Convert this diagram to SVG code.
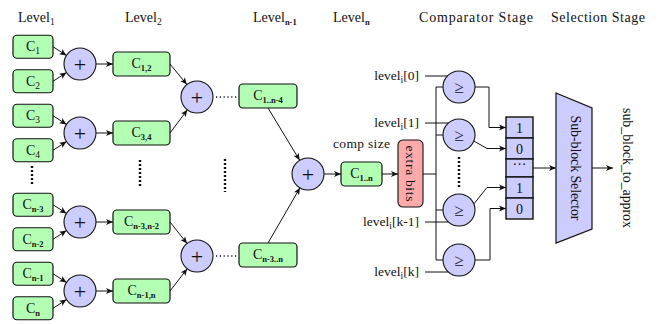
<svg xmlns="http://www.w3.org/2000/svg" width="662" height="324" viewBox="0 0 662 324">
  <defs>
    <marker id="arr" markerUnits="userSpaceOnUse" markerWidth="8" markerHeight="7" refX="7" refY="3.5" orient="auto">
      <path d="M0,0.5 L7,3.5 L0,6.5 L1.8,3.5 z" fill="#111"/>
    </marker>
    <style>
      text { font-family: "Liberation Serif", "DejaVu Serif", serif; fill: #111; }
      .hdr { font-size: 14px; }
      .lbl { font-size: 13.5px; }
      .box { fill: #b3ffb3; stroke: #111; stroke-width: 1.2; }
      .add { fill: #ccccff; stroke: #111; stroke-width: 1.1; }
      .cmp { fill: #ccccff; stroke: #111; stroke-width: 1.1; }
      .reg { fill: #ccccff; stroke: #111; stroke-width: 1.4; }
      .ctext { font-size: 14px; text-anchor: middle; }
      .sub { font-size: 8.5px; font-weight: bold; }
      .subn { font-size: 9.5px; }
      .op { font-size: 22px; text-anchor: middle; font-weight: 300; }
      .ge { font-size: 17px; text-anchor: middle; }
      .wire { fill: none; stroke: #111; stroke-width: 1; }
      .arrow { fill: none; stroke: #111; stroke-width: 1; marker-end: url(#arr); }
      .hdots { fill: none; stroke: #111; stroke-width: 1.3; stroke-dasharray: 1.2 2.6; }
      .vdots { fill: none; stroke: #111; stroke-width: 2.4; stroke-dasharray: 2 2; }
    </style>
  </defs>

  <!-- column headers -->
  <g id="headers" class="hdr">
    <text x="18" y="22">Level<tspan class="subn" dy="3">1</tspan></text>
    <text x="125" y="22">Level<tspan class="subn" dy="3">2</tspan></text>
    <text x="253" y="22">Level<tspan class="sub" dy="3">n-1</tspan></text>
    <text x="333" y="22">Level<tspan class="sub" dy="3">n</tspan></text>
    <text x="419" y="22" textLength="114">Comparator Stage</text>
    <text x="551" y="22" textLength="94">Selection Stage</text>
  </g>

  <!-- level 1 inputs -->
  <g id="c1"><rect class="box" x="13" y="35.25" width="40" height="23" rx="4"/><text class="ctext" x="33" y="51">C<tspan class="subn" dy="3">1</tspan></text></g>
  <g id="c2"><rect class="box" x="13" y="69.75" width="40" height="23" rx="4"/><text class="ctext" x="33" y="85.5">C<tspan class="subn" dy="3">2</tspan></text></g>
  <g id="c3"><rect class="box" x="13" y="104.25" width="40" height="23" rx="4"/><text class="ctext" x="33" y="120">C<tspan class="subn" dy="3">3</tspan></text></g>
  <g id="c4"><rect class="box" x="13" y="138.75" width="40" height="23" rx="4"/><text class="ctext" x="33" y="154.5">C<tspan class="subn" dy="3">4</tspan></text></g>
  <g id="cn3"><rect class="box" x="13" y="193.25" width="40" height="23" rx="4"/><text class="ctext" x="33" y="209">C<tspan class="sub" dy="3">n-3</tspan></text></g>
  <g id="cn2"><rect class="box" x="13" y="227.75" width="40" height="23" rx="4"/><text class="ctext" x="33" y="243.5">C<tspan class="sub" dy="3">n-2</tspan></text></g>
  <g id="cn1"><rect class="box" x="13" y="262.25" width="40" height="23" rx="4"/><text class="ctext" x="33" y="278">C<tspan class="sub" dy="3">n-1</tspan></text></g>
  <g id="cn"><rect class="box" x="13" y="296.75" width="40" height="23" rx="4"/><text class="ctext" x="33" y="312.5">C<tspan class="sub" dy="3">n</tspan></text></g>

  <!-- level 1 adders -->
  <g id="add1a"><circle class="add" cx="80" cy="64" r="16"/><text class="op" x="80" y="71.5">+</text></g>
  <g id="add1b"><circle class="add" cx="80" cy="133" r="16"/><text class="op" x="80" y="140.5">+</text></g>
  <g id="add1c"><circle class="add" cx="80" cy="222" r="16"/><text class="op" x="80" y="229.5">+</text></g>
  <g id="add1d"><circle class="add" cx="80" cy="291" r="16"/><text class="op" x="80" y="298.5">+</text></g>

  <!-- level 2 partial sums -->
  <g id="c12"><rect class="box" x="113" y="52" width="57" height="24" rx="4"/><text class="ctext" x="141.5" y="68">C<tspan class="sub" dy="3">1,2</tspan></text></g>
  <g id="c34"><rect class="box" x="113" y="121" width="57" height="24" rx="4"/><text class="ctext" x="141.5" y="137">C<tspan class="sub" dy="3">3,4</tspan></text></g>
  <g id="cn3n2"><rect class="box" x="113" y="210" width="57" height="24" rx="4"/><text class="ctext" x="141.5" y="226">C<tspan class="sub" dy="3">n-3,n-2</tspan></text></g>
  <g id="cn1n"><rect class="box" x="113" y="279" width="57" height="24" rx="4"/><text class="ctext" x="141.5" y="295">C<tspan class="sub" dy="3">n-1,n</tspan></text></g>

  <!-- level 2 adders -->
  <g id="add2a"><circle class="add" cx="197" cy="97" r="16"/><text class="op" x="197" y="104.5">+</text></g>
  <g id="add2b"><circle class="add" cx="197" cy="256" r="16"/><text class="op" x="197" y="263.5">+</text></g>

  <!-- level n-1 partial sums -->
  <g id="c1n4"><rect class="box" x="239" y="84" width="58" height="24" rx="4"/><text class="ctext" x="268" y="100">C<tspan class="sub" dy="3">1..n-4</tspan></text></g>
  <g id="cn3n"><rect class="box" x="239" y="243" width="58" height="24" rx="4"/><text class="ctext" x="268" y="259">C<tspan class="sub" dy="3">n-3..n</tspan></text></g>

  <!-- final adder and total -->
  <g id="addn"><circle class="add" cx="308" cy="174" r="16"/><text class="op" x="308" y="181.5">+</text></g>
  <g id="c1n">
    <text class="lbl" x="333" y="148" textLength="57">comp size</text>
    <rect class="box" x="341" y="162" width="41" height="24" rx="4"/><text class="ctext" x="361.5" y="178">C<tspan class="sub" dy="3">1..n</tspan></text>
  </g>
  <g id="extra">
    <rect x="398" y="140" width="25" height="67" rx="5" fill="#ffaaaa" stroke="#111" stroke-width="1.1"/>
    <text class="lbl" transform="translate(410.5,173.5) rotate(90)" x="0" y="4.5" text-anchor="middle" textLength="56">extra bits</text>
  </g>

  <!-- threshold inputs -->
  <g id="thresholds" class="lbl" text-anchor="end">
    <text x="419" y="80">level<tspan class="subn" dy="3">i</tspan><tspan dy="-3">[0]</tspan></text>
    <text x="419" y="127">level<tspan class="subn" dy="3">i</tspan><tspan dy="-3">[1]</tspan></text>
    <text x="419" y="226">level<tspan class="subn" dy="3">i</tspan><tspan dy="-3">[k-1]</tspan></text>
    <text x="419" y="276">level<tspan class="subn" dy="3">i</tspan><tspan dy="-3">[k]</tspan></text>
  </g>

  <!-- comparators -->
  <g id="cmp0"><circle class="cmp" cx="459" cy="87" r="16"/><text class="ge" x="459" y="93">≥</text></g>
  <g id="cmp1"><circle class="cmp" cx="459" cy="135" r="16"/><text class="ge" x="459" y="141">≥</text></g>
  <g id="cmpk1"><circle class="cmp" cx="459" cy="210" r="16"/><text class="ge" x="459" y="216">≥</text></g>
  <g id="cmpk"><circle class="cmp" cx="459" cy="260" r="16"/><text class="ge" x="459" y="266">≥</text></g>

  <!-- comparison result register -->
  <g id="register">
    <rect class="reg" x="506" y="117" width="27" height="21"/>
    <rect class="reg" x="506" y="138" width="27" height="21"/>
    <rect class="reg" x="506" y="159" width="27" height="18"/>
    <rect class="reg" x="506" y="177" width="27" height="21"/>
    <rect class="reg" x="506" y="198" width="27" height="21"/>
    <text class="ctext" x="519.5" y="132.5">1</text>
    <text class="ctext" x="519.5" y="153.5">0</text>
    <text class="ctext" x="519.5" y="169" font-size="10">···</text>
    <text class="ctext" x="519.5" y="192.5">1</text>
    <text class="ctext" x="519.5" y="213.5">0</text>
  </g>

  <!-- selector -->
  <g id="selector">
    <path d="M556,93 L592,108 L592,229 L556,243 Z" fill="#ccccff" stroke="#111" stroke-width="1.2"/>
    <text class="hdr" transform="translate(575,168) rotate(90)" x="0" y="4.5" text-anchor="middle" textLength="105">Sub-block Selector</text>
  </g>
  <g id="output">
    <text class="hdr" transform="translate(627,168) rotate(90)" x="0" y="4.5" text-anchor="middle" textLength="120">sub_block_to_approx</text>
  </g>

  <!-- connectors -->
  <g id="connectors">
    <!-- level 1 to adders -->
    <line class="arrow" x1="53" y1="46.75" x2="66.5" y2="55.4"/>
    <line class="arrow" x1="53" y1="81.25" x2="66.5" y2="72.6"/>
    <line class="arrow" x1="53" y1="115.75" x2="66.5" y2="124.4"/>
    <line class="arrow" x1="53" y1="150.25" x2="66.5" y2="141.6"/>
    <line class="arrow" x1="53" y1="204.75" x2="66.5" y2="213.4"/>
    <line class="arrow" x1="53" y1="239.25" x2="66.5" y2="230.6"/>
    <line class="arrow" x1="53" y1="273.75" x2="66.5" y2="282.4"/>
    <line class="arrow" x1="53" y1="308.25" x2="66.5" y2="299.6"/>
    <!-- adders to level 2 -->
    <line class="arrow" x1="96" y1="64" x2="113" y2="64"/>
    <line class="arrow" x1="96" y1="133" x2="113" y2="133"/>
    <line class="arrow" x1="96" y1="222" x2="113" y2="222"/>
    <line class="arrow" x1="96" y1="291" x2="113" y2="291"/>
    <!-- level 2 to adders -->
    <line class="arrow" x1="170" y1="64" x2="186.9" y2="84.6"/>
    <line class="arrow" x1="170" y1="133" x2="187.4" y2="109.8"/>
    <line class="arrow" x1="170" y1="222" x2="187.1" y2="243.5"/>
    <line class="arrow" x1="170" y1="291" x2="187.2" y2="268.7"/>
    <!-- elided levels -->
    <line class="hdots" x1="216" y1="97" x2="238" y2="97"/>
    <line class="hdots" x1="216" y1="256" x2="238" y2="256"/>
    <line class="vdots" x1="32" y1="166" x2="32" y2="184"/>
    <line class="vdots" x1="140" y1="160" x2="140" y2="188"/>
    <line class="vdots" x1="225" y1="159" x2="225" y2="192"/>
    <line class="vdots" x1="459" y1="157" x2="459" y2="188"/>
    <!-- level n-1 to final adder -->
    <line class="arrow" x1="268" y1="108" x2="299.7" y2="160.3"/>
    <line class="arrow" x1="268" y1="243" x2="300" y2="187.8"/>
    <line class="arrow" x1="324" y1="174" x2="341" y2="174"/>
    <line class="arrow" x1="382" y1="174" x2="398" y2="174"/>
    <!-- bus to comparators -->
    <path class="wire" d="M423,174 H436 M436,87 V260 M436,87 H443 M436,135 H443 M436,210 H443 M436,260 H443"/>
    <!-- thresholds to comparators -->
    <line class="wire" x1="425" y1="76" x2="447.4" y2="76"/>
    <line class="wire" x1="425" y1="123" x2="448.4" y2="123"/>
    <line class="wire" x1="425" y1="222" x2="448.4" y2="222"/>
    <line class="wire" x1="425" y1="272" x2="448.4" y2="272"/>
    <!-- comparators to register -->
    <polyline class="arrow" points="475,87 489,87 489,127.5 506,127.5"/>
    <polyline class="arrow" points="473.8,141 487,148.5 506,148.5"/>
    <polyline class="arrow" points="473.8,204 487,187.5 506,187.5"/>
    <polyline class="arrow" points="475,260 490,260 490,208.5 506,208.5"/>
    <!-- register to selector to output -->
    <line class="arrow" x1="533" y1="168" x2="556" y2="168"/>
    <line class="arrow" x1="592" y1="168" x2="613" y2="168"/>
  </g>
</svg>
